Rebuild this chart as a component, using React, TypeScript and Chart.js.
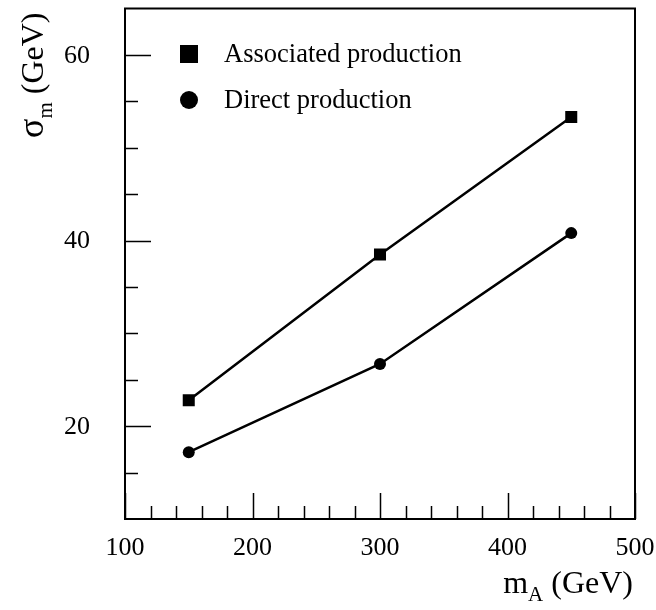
import React, { useEffect, useRef } from "react";
import { Chart, registerables } from "chart.js";

Chart.register(...registerables);

const massValues = [150, 300, 450];
const associatedSigma = [22.8, 38.5, 53.3];
const directSigma = [17.2, 26.7, 40.8];
const xMajorTicks = [100, 200, 300, 400, 500];
const xMinorTicks = [120, 140, 160, 180, 220, 240, 260, 280, 320, 340, 360, 380, 420, 440, 460, 480];
const yMajorTicks = [20, 40, 60];
const yMinorTicks = [15, 25, 30, 35, 45, 50, 55];
const seriesNames = ["Associated production", "Direct production"];

const SERIF = '"Liberation Serif", "DejaVu Serif", serif';

const framePlugin = {
  id: "framePlugin",
  afterDraw(chart: any) {
    const ctx = chart.ctx as CanvasRenderingContext2D;
    const { left, right, top, bottom } = chart.chartArea;
    const xs = chart.scales.x;
    const ys = chart.scales.y;
    ctx.save();
    ctx.strokeStyle = "#000";
    ctx.fillStyle = "#000";
    // ticks
    ctx.lineWidth = 1.5;
    ctx.beginPath();
    for (const v of xMajorTicks) {
      const px = Math.round(xs.getPixelForValue(v)) + 0.5;
      ctx.moveTo(px, bottom);
      ctx.lineTo(px, bottom - 26);
    }
    for (const v of xMinorTicks) {
      const px = Math.round(xs.getPixelForValue(v)) + 0.5;
      ctx.moveTo(px, bottom);
      ctx.lineTo(px, bottom - 13);
    }
    for (const v of yMajorTicks) {
      const py = Math.round(ys.getPixelForValue(v)) + 0.5;
      ctx.moveTo(left, py);
      ctx.lineTo(left + 26, py);
    }
    for (const v of yMinorTicks) {
      const py = Math.round(ys.getPixelForValue(v)) + 0.5;
      ctx.moveTo(left, py);
      ctx.lineTo(left + 13, py);
    }
    ctx.stroke();
    // frame
    ctx.lineWidth = 2;
    ctx.strokeRect(left, top, right - left, bottom - top);

    // tick labels
    ctx.font = `26px ${SERIF}`;
    ctx.textAlign = "center";
    ctx.textBaseline = "middle";
    for (const v of xMajorTicks) {
      ctx.fillText(String(v), xs.getPixelForValue(v), bottom + 29);
    }
    ctx.textAlign = "right";
    for (const v of yMajorTicks) {
      ctx.fillText(String(v), left - 35, ys.getPixelForValue(v) + 1);
    }

    // x title: m_A (GeV)
    ctx.textBaseline = "alphabetic";
    ctx.textAlign = "left";
    const bigFont = `32px ${SERIF}`;
    const subFont = `21px ${SERIF}`;
    ctx.font = bigFont;
    const wM = ctx.measureText("m").width;
    const wG = ctx.measureText(" (GeV)").width;
    ctx.font = subFont;
    const wA = ctx.measureText("A").width;
    const xEnd = right - 2;
    const xStart = xEnd - (wM + wA + wG);
    const baseY = 593;
    ctx.font = bigFont;
    ctx.fillText("m", xStart, baseY);
    ctx.font = subFont;
    ctx.fillText("A", xStart + wM, baseY + 8);
    ctx.font = bigFont;
    ctx.fillText(" (GeV)", xStart + wM + wA, baseY);

    // y title: sigma_m (GeV)
    ctx.save();
    ctx.translate(43, 138);
    ctx.rotate(-Math.PI / 2);
    ctx.font = `36px ${SERIF}`;
    ctx.fillText("σ", 0, 0);
    const wS = ctx.measureText("σ").width;
    ctx.font = subFont;
    ctx.fillText("m", wS, 9);
    const wm = ctx.measureText("m").width;
    ctx.font = bigFont;
    ctx.fillText(" (GeV)", wS + wm, 0);
    ctx.restore();

    // legend
    ctx.font = `26.5px ${SERIF}`;
    ctx.textBaseline = "middle";
    ctx.textAlign = "left";
    const lx = 189;
    const ly1 = 54;
    const ly2 = 100;
    ctx.fillRect(lx - 9, ly1 - 9, 18, 18);
    ctx.beginPath();
    ctx.arc(lx, ly2, 9, 0, Math.PI * 2);
    ctx.fill();
    ctx.fillText(seriesNames[0], 224, ly1 + 1);
    ctx.fillText(seriesNames[1], 224, ly2 + 1);
    ctx.restore();
  },
};

export default function App() {
  const ref = useRef<HTMLCanvasElement | null>(null);
  useEffect(() => {
    if (!ref.current) return;
    const chart = new Chart(ref.current, {
      type: "line",
      data: {
        datasets: [
          {
            label: seriesNames[0],
            data: massValues.map((x, i) => ({ x, y: associatedSigma[i] })),
            borderColor: "#000",
            backgroundColor: "#000",
            borderWidth: 2.5,
            pointStyle: "rect",
            pointRadius: 8.5,
            pointBorderWidth: 0,
            tension: 0,
          },
          {
            label: seriesNames[1],
            data: massValues.map((x, i) => ({ x, y: directSigma[i] })),
            borderColor: "#000",
            backgroundColor: "#000",
            borderWidth: 2.5,
            pointStyle: "circle",
            pointRadius: 6,
            pointBorderWidth: 0,
            tension: 0,
          },
        ],
      },
      options: {
        responsive: false,
        animation: false,
        layout: { padding: { left: 125, right: 21, top: 6, bottom: 91 } },
        scales: {
          x: { type: "linear", min: 100, max: 500, display: false },
          y: { type: "linear", min: 10, max: 65, display: false },
        },
        plugins: {
          legend: { display: false },
          tooltip: { enabled: false },
        },
      },
      plugins: [framePlugin],
    });
    return () => chart.destroy();
  }, []);
  return (
    <div style={{ position: "fixed", left: 0, top: 0, width: 656, height: 610, background: "#fff" }}>
      <canvas ref={ref} width={656} height={610} />
    </div>
  );
}
